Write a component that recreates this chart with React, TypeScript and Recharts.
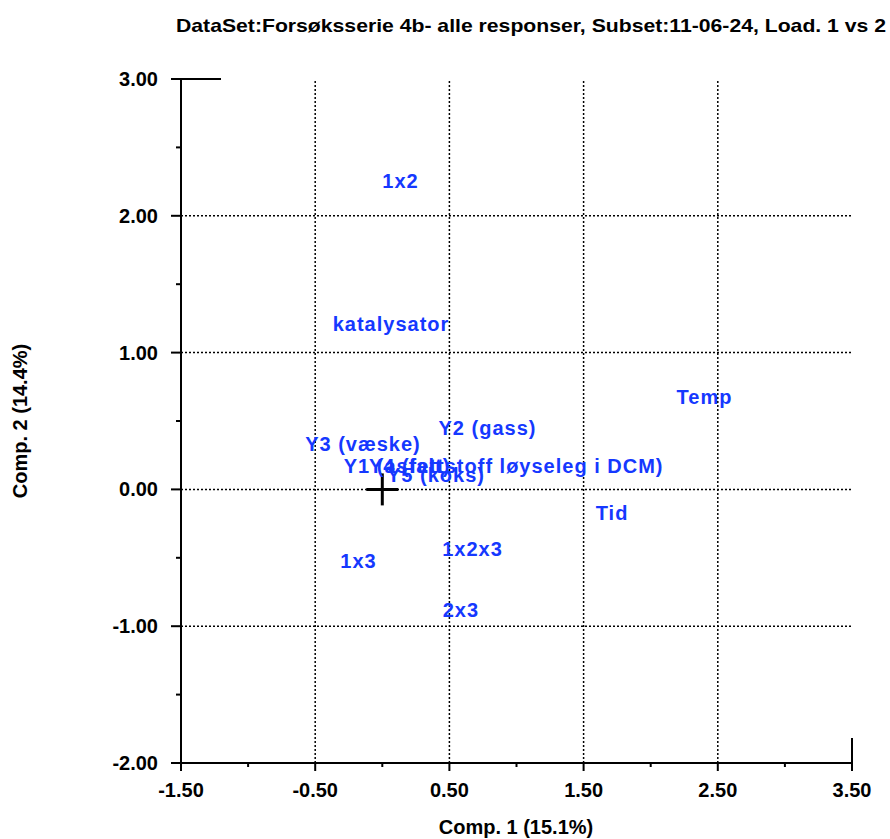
import { ScatterChart, Scatter, XAxis, YAxis, ReferenceLine } from 'recharts';

// Loadings, PC1 vs PC2
const LABELS = [
  '1x2',
  'katalysator',
  'Temp',
  'Y2 (gass)',
  'Y3 (væske)',
  'Y1 (asfalt)',
  'Y4 (fettstoff løyseleg i DCM)',
  'Y5 (koks)',
  'Tid',
  '1x2x3',
  '1x3',
  '2x3',
];
const COMP1 = [0.136, 0.065, 2.401, 0.784, -0.144, 0.11, 0.998, 0.4, 1.712, 0.672, -0.177, 0.586];
const COMP2 = [2.254, 1.209, 0.675, 0.449, 0.332, 0.171, 0.171, 0.105, -0.173, -0.436, -0.523, -0.882];

const X_TICKS = [-1.5, -1, -0.5, 0, 0.5, 1, 1.5, 2, 2.5, 3, 3.5];
const X_MAJOR = [-1.5, -0.5, 0.5, 1.5, 2.5, 3.5];
const Y_TICKS = [-2, -1.5, -1, -0.5, 0, 0.5, 1, 1.5, 2, 2.5, 3];
const Y_MAJOR = [-2, -1, 0, 1, 2, 3];
const X_GRID = [-0.5, 0.5, 1.5, 2.5];
const Y_GRID = [-1, 0, 1, 2];

const TITLE = 'DataSet:Forsøksserie 4b- alle responser, Subset:11-06-24, Load. 1 vs 2';
const X_TITLE = 'Comp. 1 (15.1%)';
const Y_TITLE = 'Comp. 2 (14.4%)';

const FONT = '"Liberation Sans", Arial, sans-serif';
const BLUE = '#1538ff';

const points = LABELS.map((label, i) => ({ label, x: COMP1[i], y: COMP2[i] }));
const origin = [{ x: 0, y: 0 }];

const isIn = (v: number, list: number[]) => list.some((m) => Math.abs(m - v) < 1e-9);

function XTick(props: any) {
  const { x, y, payload } = props;
  const major = isIn(payload.value, X_MAJOR);
  // the last tick also runs up into the plot a little
  const isEnd = Math.abs(payload.value - 3.5) < 1e-9;
  return (
    <g>
      <line x1={x} x2={x} y1={isEnd ? y - 25 : y} y2={y + (major ? 8 : 4)} stroke="#000" strokeWidth={2} />
      {major && (
        <text x={x} y={y + 34} textAnchor="middle" fontFamily={FONT} fontWeight="bold" fontSize={20} fill="#000">
          {payload.value.toFixed(2)}
        </text>
      )}
    </g>
  );
}

function YTick(props: any) {
  const { x, y, payload } = props;
  const major = isIn(payload.value, Y_MAJOR);
  const isEnd = Math.abs(payload.value - 3) < 1e-9;
  return (
    <g>
      <line x1={x - (major ? 10 : 5)} x2={isEnd ? x + 40 : x} y1={y} y2={y} stroke="#000" strokeWidth={2} />
      {major && (
        <text x={x - 23} y={y + 7} textAnchor="end" fontFamily={FONT} fontWeight="bold" fontSize={20} fill="#000">
          {payload.value.toFixed(2)}
        </text>
      )}
    </g>
  );
}

function LabelShape(props: any) {
  const { cx, cy, payload } = props;
  return (
    <text
      x={cx}
      y={cy}
      textAnchor="middle"
      dominantBaseline="central"
      fontFamily={FONT}
      fontWeight="bold"
      fontSize={20}
      letterSpacing={1}
      fill={BLUE}
    >
      {payload.label}
    </text>
  );
}

function Cross(props: any) {
  const { cx, cy } = props;
  return (
    <g stroke="#000" strokeWidth={3}>
      <line x1={cx - 16} x2={cx + 16} y1={cy} y2={cy} />
      <line x1={cx} x2={cx} y1={cy - 16} y2={cy + 16} />
    </g>
  );
}

export default function App() {
  return (
    <div style={{ position: 'absolute', left: 0, top: 0, width: 890, height: 839, background: '#fff' }}>
      <ScatterChart
        width={890}
        height={839}
        margin={{ top: 79, right: 38, bottom: 46, left: 121 }}
      >
        <XAxis
          type="number"
          dataKey="x"
          domain={[-1.5, 3.5]}
          ticks={X_TICKS}
          interval={0}
          allowDataOverflow
          height={30}
          tickSize={0}
          tickMargin={0}
          tickLine={false}
          tick={<XTick />}
          axisLine={{ stroke: '#000', strokeWidth: 2 }}
        />
        <YAxis
          type="number"
          dataKey="y"
          domain={[-2, 3]}
          ticks={Y_TICKS}
          interval={0}
          allowDataOverflow
          width={60}
          tickSize={0}
          tickMargin={0}
          tickLine={false}
          tick={<YTick />}
          axisLine={{ stroke: '#000', strokeWidth: 2 }}
        />
        {X_GRID.map((v) => (
          <ReferenceLine key={'gx' + v} x={v} stroke="#000" strokeDasharray="2 2" strokeWidth={1.5} />
        ))}
        {Y_GRID.map((v) => (
          <ReferenceLine key={'gy' + v} y={v} stroke="#000" strokeDasharray="2 2" strokeWidth={1.5} />
        ))}
        <Scatter data={origin} shape={<Cross />} isAnimationActive={false} />
        <Scatter data={points} shape={<LabelShape />} isAnimationActive={false} />
      </ScatterChart>
      <svg
        width={890}
        height={839}
        style={{ position: 'absolute', left: 0, top: 0, pointerEvents: 'none' }}
      >
        <text
          x={176}
          y={32}
          fontFamily={FONT}
          fontWeight="bold"
          fontSize={19}
          textLength={710}
          lengthAdjust="spacingAndGlyphs"
          fill="#000"
        >
          {TITLE}
        </text>
        <text x={516} y={834} textAnchor="middle" fontFamily={FONT} fontWeight="bold" fontSize={20} fill="#000">
          {X_TITLE}
        </text>
        <text
          x={27}
          y={421}
          textAnchor="middle"
          transform="rotate(-90 27 421)"
          fontFamily={FONT}
          fontWeight="bold"
          fontSize={20}
          fill="#000"
        >
          {Y_TITLE}
        </text>
      </svg>
    </div>
  );
}
